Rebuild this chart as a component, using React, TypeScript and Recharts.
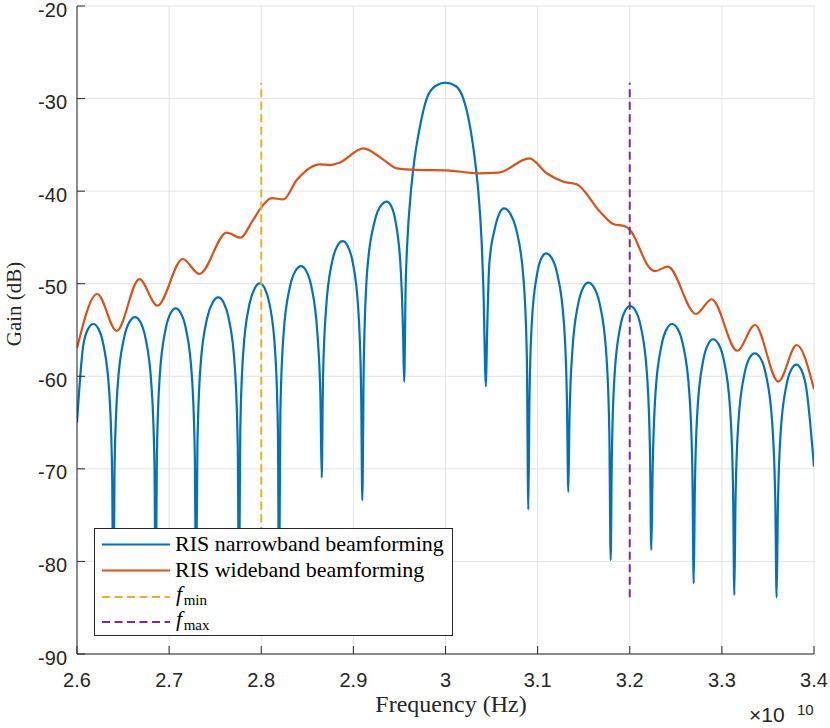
import React from 'react';
import { LineChart, Line, XAxis, YAxis, CartesianGrid, Legend } from 'recharts';

// ---------- data (frequency in units of 1e10 Hz, gain in dB) ----------
const xTicks = [2.6, 2.7, 2.8, 2.9, 3.0, 3.1, 3.2, 3.3, 3.4];
const yTicks = [-90, -80, -70, -60, -50, -40, -30, -20];

const narrowband: [number, number][] = [
  [2.6000, -65.0], [2.6066, -56.8], [2.6122, -54.85], [2.6177, -54.35],
  [2.6231, -54.85], [2.6286, -56.55], [2.6351, -61.85], [2.6381, -70.35], [2.6394, -85],
  [2.6408, -69.6], [2.6441, -61.1], [2.6512, -55.8], [2.6571, -54.1], [2.6630, -53.6], [2.6686, -54.1], [2.6742, -55.8], [2.6809, -61.1], [2.6841, -69.6], [2.6854, -85],
  [2.6867, -68.66], [2.6897, -60.16], [2.6963, -54.86], [2.7017, -53.16], [2.7071, -52.66], [2.7126, -53.16], [2.7182, -54.86], [2.7248, -60.16], [2.7279, -68.66], [2.7292, -85],
  [2.7307, -67.5], [2.7340, -59.0], [2.7413, -53.7], [2.7474, -52.0], [2.7534, -51.47], [2.7590, -52.0], [2.7646, -53.7], [2.7713, -59.0], [2.7745, -67.5], [2.7758, -85],
  [2.7772, -66.0], [2.7804, -57.5], [2.7872, -52.2], [2.7929, -50.5], [2.7986, -49.96], [2.8038, -50.5], [2.8090, -52.2], [2.8152, -57.5], [2.8181, -66.0], [2.8193, -85],
  [2.8207, -64.1], [2.8241, -55.6], [2.8312, -50.3], [2.8372, -48.6], [2.8431, -48.09], [2.8487, -48.6], [2.8544, -50.3], [2.8611, -55.6], [2.8643, -62.5], [2.8656, -70.95],
  [2.8670, -60.5], [2.8702, -52.9], [2.8770, -47.6], [2.8827, -45.9], [2.8884, -45.4], [2.8937, -45.9], [2.8991, -47.6], [2.9054, -52.9], [2.9084, -61.4], [2.9097, -73.4],
  [2.9113, -58.5], [2.9150, -48.6], [2.9230, -43.3], [2.9296, -41.6], [2.9362, -41.14], [2.9410, -41.6], [2.9458, -43.3], [2.9515, -48.6], [2.9540, -55.5], [2.9551, -60.6],
  [2.9568, -50.0], [2.9585, -45.6], [2.9625, -40.0], [2.9650, -37.6], [2.9723, -33.0], [2.9796, -30.0], [2.9890, -28.64], [3.0000, -28.28], [3.0110, -28.64], [3.0193, -30.0], [3.0266, -33.0], [3.0331, -37.6], [3.0356, -40.0], [3.0393, -45.6], [3.0410, -50.0], [3.0439, -61.1],
  [3.0450, -56.0], [3.0476, -47.8], [3.0536, -44.0], [3.0585, -42.4], [3.0635, -41.86], [3.0701, -42.4], [3.0767, -44.1], [3.0846, -49.4], [3.0883, -57.9], [3.0899, -74.4],
  [3.0911, -62.7], [3.0937, -54.2], [3.0995, -48.9], [3.1043, -47.2], [3.1091, -46.72], [3.1152, -47.2], [3.1212, -48.9], [3.1285, -54.2], [3.1318, -62.5], [3.1333, -72.5],
  [3.1346, -64.5], [3.1376, -57.4], [3.1442, -52.1], [3.1496, -50.4], [3.1550, -49.89], [3.1611, -50.4], [3.1672, -52.1], [3.1744, -57.4], [3.1778, -65.9], [3.1793, -79.85],
  [3.1806, -68.4], [3.1835, -59.9], [3.1898, -54.6], [3.1951, -52.9], [3.2003, -52.41], [3.2061, -52.9], [3.2119, -54.6], [3.2188, -59.9], [3.2220, -68.4], [3.2234, -78.77],
  [3.2248, -70.35], [3.2279, -61.85], [3.2347, -56.55], [3.2403, -54.85], [3.2459, -54.35], [3.2518, -54.85], [3.2577, -56.55], [3.2647, -61.85], [3.2680, -70.35], [3.2694, -82.37],
  [3.2707, -72.0], [3.2736, -63.5], [3.2799, -58.2], [3.2852, -56.5], [3.2904, -56.0], [3.2962, -56.5], [3.3020, -58.2], [3.3089, -63.5], [3.3121, -72.0], [3.3135, -83.63],
  [3.3148, -73.5], [3.3179, -65.0], [3.3246, -59.7], [3.3301, -58.0], [3.3356, -57.52], [3.3416, -58.0], [3.3475, -59.7], [3.3546, -65.0], [3.3580, -73.5], [3.3594, -83.88],
  [3.3607, -74.75], [3.3637, -66.25], [3.3701, -60.95], [3.3755, -59.25], [3.3808, -58.75], [3.3862, -59.3], [3.3915, -61.2], [3.4000, -69.77],
];

const wideband: [number, number][] = [
  [2.600, -56.98], [2.622, -51.11], [2.643, -55.1], [2.6677, -49.5], [2.6872, -52.37],
  [2.7147, -47.33], [2.7328, -48.95], [2.7625, -44.49], [2.7775, -45.03], [2.790, -43.3],
  [2.800, -41.75], [2.8113, -40.75], [2.824, -40.9], [2.8385, -38.8], [2.8638, -37.1],
  [2.8746, -37.18], [2.8855, -36.9], [2.9108, -35.37], [2.9325, -36.6], [2.947, -37.54],
  [2.9687, -37.7], [3.0013, -37.75], [3.0356, -38.07], [3.0573, -38.0], [3.091, -36.45],
  [3.1099, -38.07], [3.128, -38.98], [3.1424, -39.26], [3.1677, -42.22], [3.1821, -43.55],
  [3.1948, -43.8], [3.2003, -44.2], [3.222, -48.34], [3.2274, -48.65], [3.2413, -48.15],
  [3.2719, -53.27], [3.2889, -51.68], [3.3167, -57.24], [3.3359, -54.46], [3.3613, -60.58],
  [3.3812, -56.62], [3.400, -61.41],
];

const fMin: [number, number][] = [[2.8, -83.88], [2.8, -28.28]];
const fMax: [number, number][] = [[3.2, -83.88], [3.2, -28.28]];

const legendLabels = ['RIS narrowband beamforming', 'RIS wideband beamforming', 'min', 'max'];

// ---------- styling ----------
const AXIS = '#262626';
const BLUE = '#0072BD';
const ORANGE = '#D95319';
const YELLOW = '#EDB120';
const PURPLE = '#7E2F8E';
const SANS = '"Liberation Sans", Arial, Helvetica, sans-serif';
const SERIF = '"Liberation Serif", "Times New Roman", serif';
const DASH = '8 4.5';

const toRows = (pts: [number, number][]) => pts.map(([f, g]) => ({ f, g }));

const BottomTick = (props: any) => {
  const { x, y, payload } = props;
  return (
    <g>
      <line x1={x} y1={y} x2={x} y2={y - 8} stroke={AXIS} strokeWidth={1} />
      <text x={x} y={y + 33} textAnchor="middle" fontFamily={SANS} fontSize={20} fill={AXIS}>
        {String(payload.value)}
      </text>
    </g>
  );
};
const TopTick = (props: any) => {
  const { x, y } = props;
  return <line x1={x} y1={y} x2={x} y2={y + 8} stroke={AXIS} strokeWidth={1} />;
};
const LeftTick = (props: any) => {
  const { x, y, payload } = props;
  return (
    <g>
      <line x1={x} y1={y} x2={x + 8} y2={y} stroke={AXIS} strokeWidth={1} />
      <text x={x - 10} y={y + 10.5} textAnchor="end" fontFamily={SANS} fontSize={20} fill={AXIS}>
        {String(payload.value)}
      </text>
    </g>
  );
};
const RightTick = (props: any) => {
  const { x, y } = props;
  return <line x1={x} y1={y} x2={x - 8} y2={y} stroke={AXIS} strokeWidth={1} />;
};

const xLabel = () => (
  <g>
    <text x={451} y={712} textAnchor="middle" fontFamily={SERIF} fontSize={24} fill={AXIS}>
      Frequency (Hz)
    </text>
    <text x={749} y={722} fontFamily={SANS} fontSize={21} fill={AXIS}>
      ×10
    </text>
    <text x={797} y={715} fontFamily={SANS} fontSize={15} fill={AXIS}>
      10
    </text>
  </g>
);

const yLabel = () => (
  <text
    x={21}
    y={304}
    transform="rotate(-90, 21, 304)"
    textAnchor="middle"
    fontFamily={SERIF}
    fontSize={21}
    fill={AXIS}
  >
    Gain (dB)
  </text>
);

const LegendBox = () => {
  const rows = [
    { color: BLUE, dash: undefined, y: 15.5 },
    { color: ORANGE, dash: undefined, y: 41.5 },
    { color: YELLOW, dash: DASH, y: 68 },
    { color: PURPLE, dash: DASH, y: 93 },
  ];
  return (
    <div
      style={{
        width: 359,
        height: 108,
        boxSizing: 'border-box',
        border: `1px solid ${AXIS}`,
        background: '#fff',
      }}
    >
      <svg width={357} height={106} style={{ display: 'block' }}>
        {rows.map((r, i) => (
          <line key={i} x1={7} x2={75} y1={r.y} y2={r.y} stroke={r.color} strokeWidth={2.2} strokeDasharray={r.dash} />
        ))}
        <text x={80} y={22} fontFamily={SERIF} fontSize={22} fill="#000">{legendLabels[0]}</text>
        <text x={80} y={48} fontFamily={SERIF} fontSize={22} fill="#000">{legendLabels[1]}</text>
        <text x={81} y={72} fontFamily={SERIF} fontSize={22} fill="#000">
          <tspan fontStyle="italic">f</tspan>
          <tspan dx={1.5} dy={3.5} fontSize={15}>{legendLabels[2]}</tspan>
        </text>
        <text x={81} y={97} fontFamily={SERIF} fontSize={22} fill="#000">
          <tspan fontStyle="italic">f</tspan>
          <tspan dx={1.5} dy={3.5} fontSize={15}>{legendLabels[3]}</tspan>
        </text>
      </svg>
    </div>
  );
};

export default function App() {
  return (
    <div style={{ width: 830, height: 728, position: 'relative', background: '#fff' }}>
      <style>{`body{margin:0;background:#fff}`}</style>
      <LineChart width={830} height={728} margin={{ top: 6, right: 16, bottom: 44, left: 17 }}>
        <CartesianGrid stroke="#e3e3e3" strokeWidth={1} />
        <XAxis
          dataKey="f"
          type="number"
          domain={[2.6, 3.4]}
          ticks={xTicks}
          allowDataOverflow
          height={30}
          tickSize={0}
          tickMargin={0}
          tickLine={false}
          axisLine={{ stroke: AXIS, strokeWidth: 1 }}
          tick={<BottomTick />}
          interval={0}
          label={{ value: 'Frequency (Hz)', content: xLabel }}
        />
        <XAxis
          xAxisId="top"
          orientation="top"
          dataKey="f"
          type="number"
          domain={[2.6, 3.4]}
          ticks={xTicks}
          allowDataOverflow
          height={0}
          tickSize={0}
          tickMargin={0}
          tickLine={false}
          axisLine={{ stroke: AXIS, strokeWidth: 1 }}
          tick={<TopTick />}
          interval={0}
        />
        <YAxis
          type="number"
          domain={[-90, -20]}
          ticks={yTicks}
          allowDataOverflow
          width={60}
          tickSize={0}
          tickMargin={0}
          tickLine={false}
          axisLine={{ stroke: AXIS, strokeWidth: 1 }}
          tick={<LeftTick />}
          interval={0}
          label={{ value: 'Gain (dB)', content: yLabel }}
        />
        <YAxis
          yAxisId="right"
          orientation="right"
          type="number"
          domain={[-90, -20]}
          ticks={yTicks}
          allowDataOverflow
          width={0}
          tickSize={0}
          tickMargin={0}
          tickLine={false}
          axisLine={{ stroke: AXIS, strokeWidth: 1 }}
          tick={<RightTick />}
          interval={0}
        />
        <Legend
          layout="horizontal"
          verticalAlign="middle"
          align="center"
          wrapperStyle={{ left: 94, top: 528, width: 359, height: 108 }}
          content={() => <LegendBox />}
        />
        <Line
          data={toRows(narrowband)}
          dataKey="g"
          type="monotone"
          stroke={BLUE}
          strokeWidth={2.2}
          dot={false}
          activeDot={false}
          isAnimationActive={false}
        />
        <Line
          data={toRows(wideband)}
          dataKey="g"
          type="monotone"
          stroke={ORANGE}
          strokeWidth={2.2}
          dot={false}
          activeDot={false}
          isAnimationActive={false}
        />
        <Line
          data={toRows(fMin)}
          dataKey="g"
          type="linear"
          stroke={YELLOW}
          strokeWidth={2}
          strokeDasharray={DASH}
          dot={false}
          activeDot={false}
          isAnimationActive={false}
        />
        <Line
          data={toRows(fMax)}
          dataKey="g"
          type="linear"
          stroke={PURPLE}
          strokeWidth={2}
          strokeDasharray={DASH}
          dot={false}
          activeDot={false}
          isAnimationActive={false}
        />
      </LineChart>
    </div>
  );
}
